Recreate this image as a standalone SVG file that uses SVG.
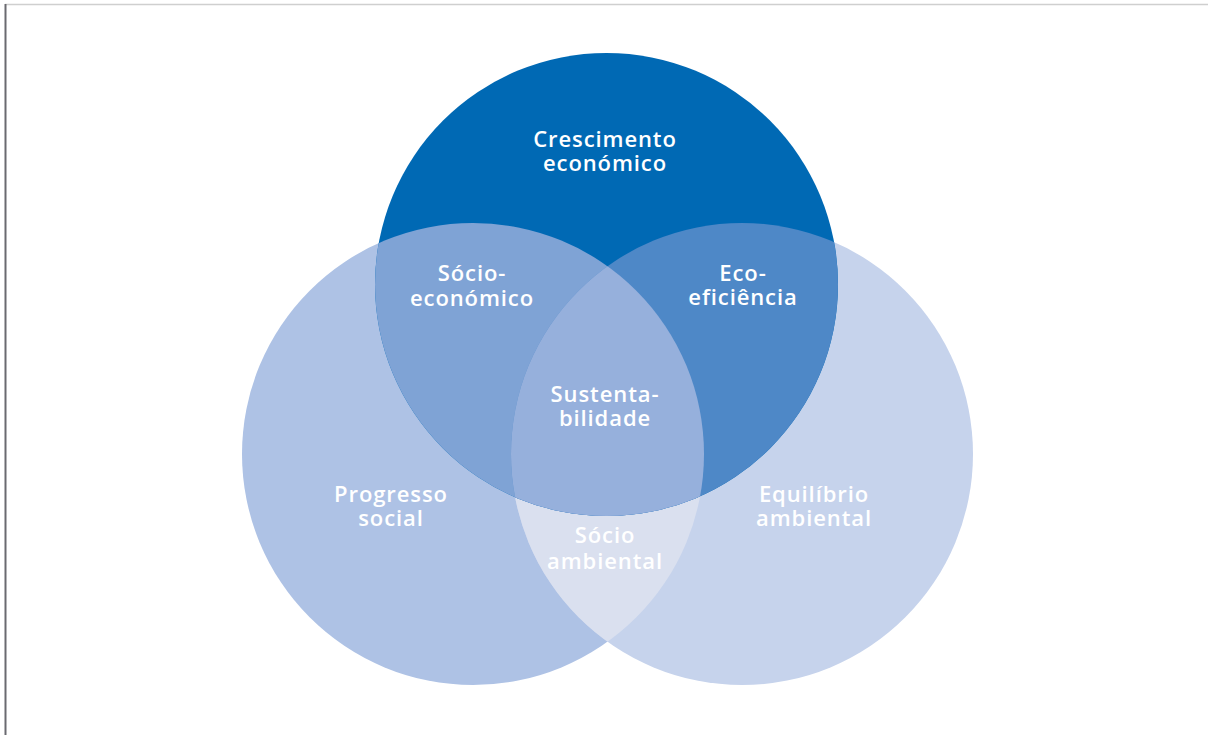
<svg xmlns="http://www.w3.org/2000/svg" width="1208" height="735" viewBox="0 0 1208 735">
<style>
.lbl{font-family:"Open Sans","Liberation Sans",sans-serif;font-weight:600;font-size:22px;letter-spacing:0.9px;fill:#ffffff;text-anchor:middle}
</style>
<defs>
<clipPath id="clipL"><circle cx="473" cy="454" r="231"/></clipPath>
<clipPath id="clipR"><circle cx="742" cy="454" r="231"/></clipPath>
</defs>
<rect x="0" y="0" width="1208" height="735" fill="#ffffff"/>
<line x1="5" y1="4.5" x2="1208" y2="4.5" stroke="#cfcfcf" stroke-width="1.5"/>
<line x1="5.5" y1="4" x2="5.5" y2="735" stroke="#6a6a70" stroke-width="2"/>
<g id="circle-progresso">
<circle cx="473" cy="454" r="231" fill="#aec2e5"/>
</g>
<g id="circle-equilibrio">
<circle cx="742" cy="454" r="231" fill="#c6d3ec"/>
</g>
<g id="region-socio-ambiental">
<circle cx="742" cy="454" r="231" fill="#dae0ef" clip-path="url(#clipL)"/>
</g>
<g id="circle-crescimento">
<circle cx="606.5" cy="284.5" r="231.5" fill="#0069b4"/>
</g>
<g id="region-socio-economico">
<circle cx="606.5" cy="284.5" r="231.5" fill="#7fa3d5" clip-path="url(#clipL)"/>
</g>
<g id="region-eco-eficiencia">
<circle cx="606.5" cy="284.5" r="231.5" fill="#4e88c7" clip-path="url(#clipR)"/>
</g>
<g id="region-sustentabilidade">
<g clip-path="url(#clipL)">
<circle cx="606.5" cy="284.5" r="231.5" fill="#96b0dc" clip-path="url(#clipR)"/>
</g>
</g>
<g id="labels">
<text class="lbl" x="605" y="147">Crescimento<tspan x="605" dy="24">económico</tspan></text>
<text class="lbl" x="472" y="281">Sócio-<tspan x="472" dy="25">económico</tspan></text>
<text class="lbl" x="743" y="281">Eco-<tspan x="743" dy="24">eficiência</tspan></text>
<text class="lbl" x="605" y="402">Sustenta-<tspan x="605" dy="24">bilidade</tspan></text>
<text class="lbl" x="605" y="543">Sócio<tspan x="605" dy="26">ambiental</tspan></text>
<text class="lbl" x="391" y="502">Progresso<tspan x="391" dy="24">social</tspan></text>
<text class="lbl" x="814" y="502">Equilíbrio<tspan x="814" dy="24">ambiental</tspan></text>
</g>
<g id="connectors"></g>
</svg>
